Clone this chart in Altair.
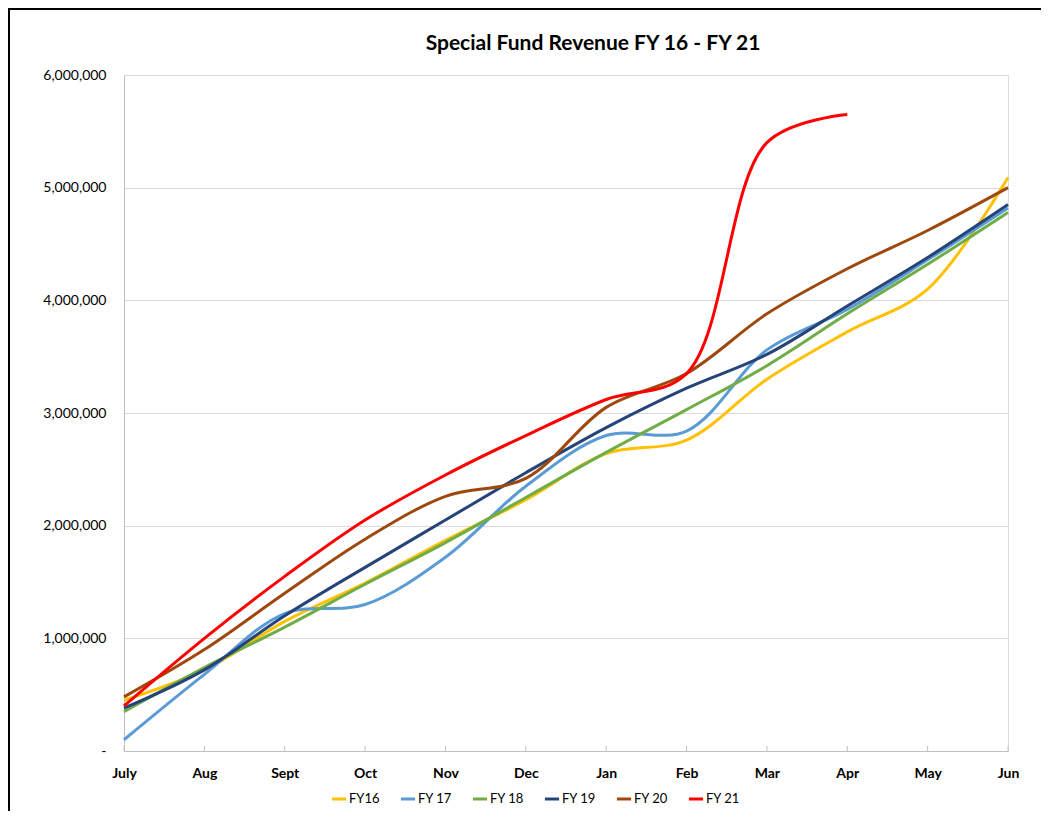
import altair as alt
import pandas as pd

months = ["July", "Aug", "Sept", "Oct", "Nov", "Dec", "Jan", "Feb", "Mar", "Apr", "May", "Jun"]
series_names = ["FY16", "FY 17", "FY 18", "FY 19", "FY 20", "FY 21"]
series_colors = ["#FFC000", "#5B9BD5", "#70AD47", "#264478", "#9E480E", "#FF0000"]

fy16 = [450000, 720000, 1150000, 1490000, 1870000, 2230000, 2640000, 2760000, 3300000, 3720000, 4100000, 5090000]
fy17 = [100000, 680000, 1220000, 1300000, 1720000, 2350000, 2800000, 2840000, 3560000, 3920000, 4360000, 4820000]
fy18 = [350000, 740000, 1100000, 1480000, 1850000, 2250000, 2650000, 3030000, 3420000, 3880000, 4320000, 4780000]
fy19 = [380000, 720000, 1200000, 1630000, 2050000, 2470000, 2870000, 3220000, 3520000, 3950000, 4380000, 4850000]
fy20 = [480000, 900000, 1400000, 1880000, 2260000, 2420000, 3050000, 3350000, 3880000, 4280000, 4620000, 5000000]
fy21 = [400000, 1000000, 1550000, 2050000, 2450000, 2800000, 3120000, 3350000, 5400000, 5650000]

y_ticks = [0, 1000000, 2000000, 3000000, 4000000, 5000000, 6000000]

rows = []
for name, vals in zip(series_names, [fy16, fy17, fy18, fy19, fy20, fy21]):
    for i, v in enumerate(vals):
        rows.append({"Month": months[i], "Series": name, "Revenue": v, "order": i})
df = pd.DataFrame(rows)
ticks_df = pd.DataFrame({"Month": months})

FONT = "Lato"
W, H = 884, 676

x_enc = alt.X("Month:O", sort=months,
              scale=alt.Scale(type="point", padding=0),
              axis=alt.Axis(title=None, labelAngle=0, labelFontWeight="bold", labelFontSize=14,
                            labelFont=FONT, labelColor="#000000", labelPadding=15,
                            ticks=False, domainColor="#bfbfbf", grid=False))

lines = alt.Chart(df).mark_line(interpolate="catmull-rom", strokeWidth=3).encode(
    x=x_enc,
    y=alt.Y("Revenue:Q", scale=alt.Scale(domain=[0, 6000000], nice=False),
            axis=alt.Axis(title=None, values=y_ticks, labelFontSize=14, labelFont=FONT,
                          labelColor="#000000", labelPadding=18, ticks=False,
                          labelExpr="datum.value == 0 ? '-' : format(datum.value, ',')",
                          gridColor="#d9d9d9", domainColor="#bfbfbf")),
    color=alt.Color("Series:N", scale=alt.Scale(domain=series_names, range=series_colors),
                    legend=alt.Legend(title=None, orient="none", direction="horizontal",
                                      legendX=206, legendY=715, columns=6,
                                      symbolType="stroke", symbolStrokeWidth=3, symbolSize=200,
                                      labelFontSize=13, labelFont=FONT, labelColor="#000000",
                                      labelOffset=1, columnPadding=14)),
    order="order:Q",
)

inner_ticks = alt.Chart(ticks_df).mark_rule(color="#bfbfbf", strokeWidth=1).encode(
    x=x_enc,
    y=alt.value(H - 5), y2=alt.value(H),
)

frame = alt.Chart(alt.Data(values=[{}])).mark_rect(
    fill=None, stroke="#000000", strokeWidth=2, clip=False
).encode(
    x=alt.value(-115), y=alt.value(-66), x2=alt.value(W + 200), y2=alt.value(H + 300)
)

chart = alt.layer(frame, inner_ticks, lines).properties(
    width=W, height=H,
    title=alt.Title("Special Fund Revenue FY 16 - FY 21", font=FONT, fontSize=21,
                    fontWeight="bold", color="#000000", anchor="middle", frame="group",
                    dx=27, dy=46, offset=0),
    autosize=alt.AutoSizeParams(type="none"),
    padding={"left": 116, "top": 67, "right": 33, "bottom": 60},
).configure_view(stroke="#bfbfbf").configure(background="white")

chart.save("out.html", embed_options={"renderer": "svg", "actions": False})
